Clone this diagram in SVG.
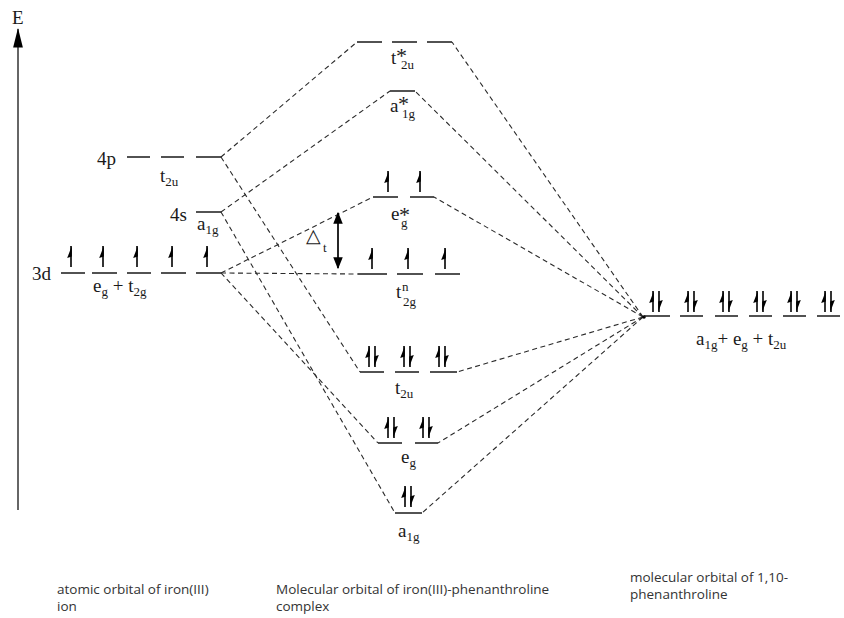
<svg xmlns="http://www.w3.org/2000/svg" width="844" height="618" viewBox="0 0 844 618">
<style>
.lvl{stroke:#1a1a1a;stroke-width:1.5;fill:none}
.dash{stroke:#2a2a2a;stroke-width:1.1;stroke-dasharray:5 3.5;fill:none}
.t{font-family:"Liberation Serif",serif;font-size:19px;fill:#1a1a1a}
.s{font-size:13px}
.st{font-size:22px}
.cap{font-family:"Open Sans","Noto Sans",sans-serif;font-size:13.5px;fill:#333}
</style>
<defs>
<g id="eu"><path d="M0,0 V21" stroke="#000" stroke-width="1.6"/><path d="M0.8,0 L-3.8,12 L0.8,10.5 Z" fill="#000"/></g>
<g id="ed"><path d="M0,0 V21" stroke="#000" stroke-width="1.6"/><path d="M-0.8,21 L3.8,9 L-0.8,10.5 Z" fill="#000"/></g>
<g id="pr"><use href="#eu" x="-3"/><use href="#ed" x="3"/></g>
<marker id="ah" viewBox="0 0 10 10" refX="9" refY="5" markerWidth="7" markerHeight="7" orient="auto-start-reverse"><path d="M0,1 L10,5 L0,9 Z" fill="#000"/></marker>
<marker id="ax" viewBox="0 0 20 10" refX="19" refY="5" markerWidth="13" markerHeight="6.5" orient="auto" markerUnits="strokeWidth"><path d="M0,0 L20,5 L0,10 Z" fill="#000"/></marker>
</defs>

<g id="axis">
<line x1="18" y1="510" x2="18" y2="29" stroke="#333" stroke-width="1.5" marker-end="url(#ax)"/>
<text class="t" x="12" y="24" font-size="15">E</text>
</g>

<g id="connectors">
<path class="dash" d="M221,157 L357,42"/>
<path class="dash" d="M221,157 L360,372"/>
<path class="dash" d="M221,212 L390,91"/>
<path class="dash" d="M221,212 L395,513"/>
<path class="dash" d="M221,273 L373,197"/>
<path class="dash" d="M221,273 L358,274"/>
<path class="dash" d="M221,273 L378,443"/>
<path class="dash" d="M643,317 L452,42"/>
<path class="dash" d="M643,317 L415,91"/>
<path class="dash" d="M643,317 L434,197"/>
<path class="dash" d="M643,317 L457,372"/>
<path class="dash" d="M643,317 L438,443"/>
<path class="dash" d="M643,317 L422,513"/>
</g>

<g id="fe-4p">
<path class="lvl" d="M127,157 H150 M161,157 H184 M196,157 H221"/>
<text class="t" x="97" y="165">4p</text>
<text class="t" x="160" y="182">t<tspan class="s" dy="4">2u</tspan></text>
</g>

<g id="fe-4s">
<path class="lvl" d="M196,212 H221"/>
<text class="t" x="170" y="221">4s</text>
<text class="t" x="197" y="230">a<tspan class="s" dy="4">1g</tspan></text>
</g>

<g id="fe-3d">
<path class="lvl" d="M61,273 H85 M92,273 H117 M127,273 H151 M161,273 H186 M196,273 H221"/>
<use href="#eu" x="71" y="246"/>
<use href="#eu" x="103" y="246"/>
<use href="#eu" x="137" y="246"/>
<use href="#eu" x="172" y="246"/>
<use href="#eu" x="207" y="246"/>
<text class="t" x="32" y="280">3d</text>
<text class="t" x="93" y="292">e<tspan class="s" dy="4">g</tspan><tspan dy="-4"> + t</tspan><tspan class="s" dy="4">2g</tspan></text>
</g>

<g id="mo-t2u-star">
<path class="lvl" d="M357,42 H382 M392,42 H417 M427,42 H452"/>
<text class="t" x="391" y="64">t<tspan class="st" x="396" y="63">*</tspan><tspan class="s" x="401" y="69">2u</tspan></text>
</g>

<g id="mo-a1g-star">
<path class="lvl" d="M390,91 H415"/>
<text class="t" x="390" y="112">a<tspan class="st" x="398" y="111">*</tspan><tspan class="s" x="402" y="118">1g</tspan></text>
</g>

<g id="mo-eg-star">
<path class="lvl" d="M373,197 H398 M410,197 H434"/>
<use href="#eu" x="388" y="171"/>
<use href="#eu" x="420" y="171"/>
<text class="t" x="391" y="220">e<tspan class="st" x="399" y="222">*</tspan><tspan class="s" x="401" y="227">g</tspan></text>
</g>

<g id="delta-t">
<line x1="338" y1="213" x2="338" y2="268" stroke="#000" stroke-width="1.7" marker-start="url(#ah)" marker-end="url(#ah)"/>
<text class="t" x="306" y="242" font-size="18">△<tspan class="s" x="323" y="252" font-size="15">t</tspan></text>
</g>

<g id="mo-t2g-n">
<path class="lvl" d="M358,274 H387 M397,274 H423 M435,274 H460"/>
<use href="#eu" x="372" y="248"/>
<use href="#eu" x="408" y="248"/>
<use href="#eu" x="445" y="248"/>
<text class="t" x="396" y="298">t<tspan class="s" x="402" y="291">n</tspan><tspan class="s" x="403" y="306">2g</tspan></text>
</g>

<g id="mo-t2u">
<path class="lvl" d="M360,372 H384 M395,372 H419 M430,372 H457"/>
<use href="#pr" x="372" y="346"/>
<use href="#pr" x="407" y="346"/>
<use href="#pr" x="442" y="346"/>
<text class="t" x="395" y="394">t<tspan class="s" dy="4">2u</tspan></text>
</g>

<g id="mo-eg">
<path class="lvl" d="M378,443 H402 M415,443 H438"/>
<use href="#pr" x="391" y="417"/>
<use href="#pr" x="426" y="417"/>
<text class="t" x="401" y="463">e<tspan class="s" dy="4">g</tspan></text>
</g>

<g id="mo-a1g">
<path class="lvl" d="M395,513 H422"/>
<use href="#pr" x="408" y="486"/>
<text class="t" x="398" y="537">a<tspan class="s" dy="4">1g</tspan></text>
</g>

<g id="ligand">
<circle cx="644" cy="317" r="1.8" fill="#000"/>
<path class="lvl" d="M644,316 H670 M680,316 H703 M715,316 H738 M749,316 H772 M783,316 H806 M817,316 H840"/>
<use href="#pr" x="656" y="291"/>
<use href="#pr" x="691" y="291"/>
<use href="#pr" x="726" y="291"/>
<use href="#pr" x="760" y="291"/>
<use href="#pr" x="794" y="291"/>
<use href="#pr" x="828" y="291"/>
<text class="t" x="696" y="345">a<tspan class="s" dy="4">1g</tspan><tspan dy="-4">+ e</tspan><tspan class="s" dy="4">g</tspan><tspan dy="-4"> + t</tspan><tspan class="s" dy="4">2u</tspan></text>
</g>

<g id="captions">
<text class="cap" x="57" y="594">atomic orbital of iron(III)</text>
<text class="cap" x="57" y="611">ion</text>
<text class="cap" x="276" y="594">Molecular orbital of iron(III)-phenanthroline</text>
<text class="cap" x="276" y="611">complex</text>
<text class="cap" x="630" y="582">molecular orbital of 1,10-</text>
<text class="cap" x="630" y="599">phenanthroline</text>
</g>
</svg>
